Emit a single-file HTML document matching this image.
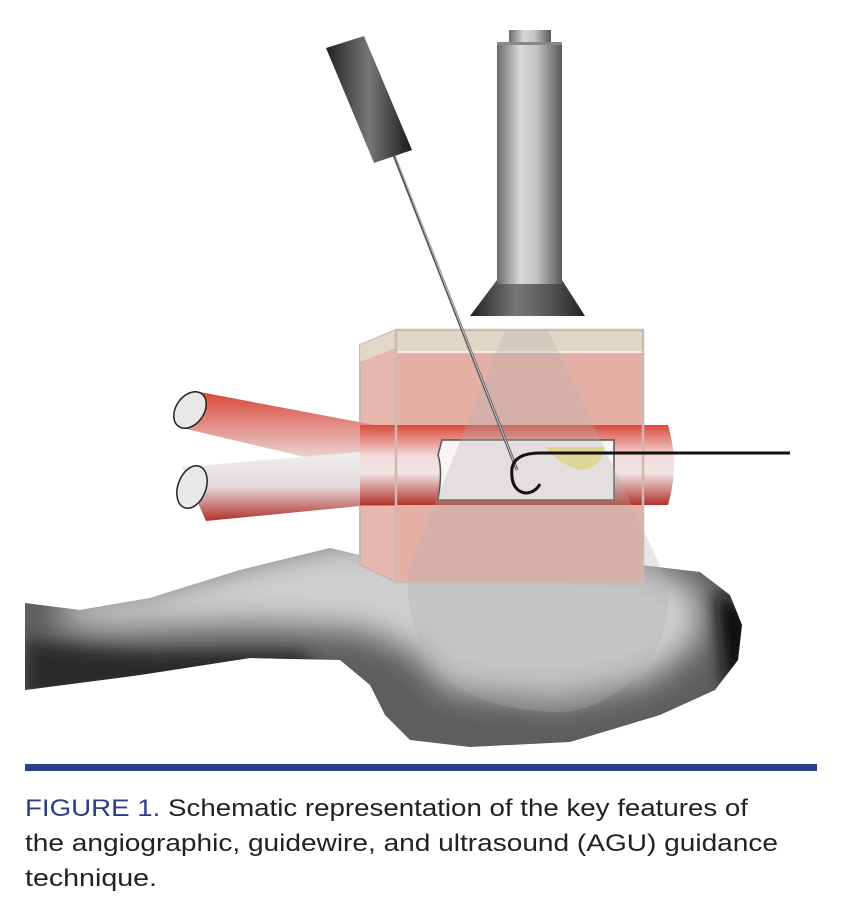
<!DOCTYPE html>
<html><head><meta charset="utf-8"><style>
html,body{margin:0;padding:0;background:#fff;width:842px;height:900px;overflow:hidden}
svg{display:block}
</style></head><body>
<svg width="842" height="900" viewBox="0 0 842 900" xmlns="http://www.w3.org/2000/svg">
<defs>
<linearGradient id="cyl" x1="0" x2="1" y1="0" y2="0">
<stop offset="0" stop-color="#6a6a6a"/><stop offset="0.35" stop-color="#d8d8d8"/><stop offset="0.6" stop-color="#c4c4c4"/><stop offset="1" stop-color="#5a5a5a"/></linearGradient>
<linearGradient id="cone" x1="0" x2="1"><stop offset="0" stop-color="#222"/><stop offset="0.4" stop-color="#777"/><stop offset="0.7" stop-color="#555"/><stop offset="1" stop-color="#222"/></linearGradient>
<linearGradient id="handle" x1="0" x2="1"><stop offset="0" stop-color="#222"/><stop offset="0.5" stop-color="#777"/><stop offset="1" stop-color="#1a1a1a"/></linearGradient>
<linearGradient id="vessel" x1="0" x2="0" y1="0" y2="1"><stop offset="0" stop-color="#d94a3c"/><stop offset="0.4" stop-color="#f3dede"/><stop offset="0.6" stop-color="#f0e4e4"/><stop offset="1" stop-color="#b2332b"/></linearGradient>
<linearGradient id="branchU" x1="0" x2="0" y1="0" y2="1"><stop offset="0" stop-color="#d8473a"/><stop offset="1" stop-color="#eee"/></linearGradient>
<linearGradient id="branchL" x1="0" x2="0" y1="0" y2="1"><stop offset="0" stop-color="#eee"/><stop offset="0.5" stop-color="#e6dada"/><stop offset="1" stop-color="#b0322a"/></linearGradient>
<filter id="blur" x="-50%" y="-50%" width="200%" height="200%"><feGaussianBlur stdDeviation="16"/></filter>
<filter id="blur2" x="-50%" y="-50%" width="200%" height="200%"><feGaussianBlur stdDeviation="8"/></filter>
<clipPath id="gclip"><path d="M25 603 L80 610 L150 598 L240 570 L330 548 L380 560 L640 565 L700 572 L730 595 L742 625 L738 660 L715 690 L660 715 L570 742 L470 747 L410 740 L385 715 L370 685 L340 660 L250 658 L140 675 L25 690 Z"/></clipPath>
</defs>

<!-- ground -->
<g clip-path="url(#gclip)">
<rect x="0" y="540" width="760" height="220" fill="#5e5e5e"/>
<path d="M25 640 L25 700 L200 690 L330 680 L300 650 L150 650 Z" fill="#2a2a2a" filter="url(#blur2)"/>
<path d="M60 600 L150 590 L250 560 L340 540 L640 560 L700 590 L700 640 L650 680 L560 700 L450 690 L410 650 L360 630 L250 625 L120 630 L60 625 Z" fill="#cfcfcf" filter="url(#blur)"/>
<path d="M715 590 L750 610 L750 670 L725 690 Z" fill="#111" filter="url(#blur2)"/>
</g>

<!-- box side & front -->
<polygon points="360,345 396,330 396,582 360,565" fill="#e7b7ad" stroke="#c9b8b0" stroke-width="2"/>
<polygon points="360,345 396,330 396,348 360,362" fill="#e1d8c7"/>
<rect x="396" y="330" width="247" height="252" fill="#e4b0a6" stroke="#c9b8b0" stroke-width="2"/>
<rect x="397" y="331" width="245" height="20" fill="#e0d7c5"/>
<line x1="397" y1="352" x2="642" y2="352" stroke="#fff" stroke-width="1.5"/>

<!-- vessels -->
<path d="M200 392 L380 426 L396 426 L396 470 L360 470 L182 428 Z" fill="url(#branchU)"/>
<path d="M182 467 L360 452 L396 452 L396 506 L360 506 L206 521 Z" fill="url(#branchL)"/>
<path d="M360 425 L668 425 Q680 465 668 505 L360 505 Z" fill="url(#vessel)"/>
<ellipse cx="190" cy="410" rx="14" ry="20" transform="rotate(35 190 410)" fill="#e8e8e8" stroke="#222" stroke-width="1.5"/>
<ellipse cx="192" cy="487" rx="14" ry="22" transform="rotate(20 192 487)" fill="#e8e8e8" stroke="#222" stroke-width="1.5"/>
<!-- window -->
<path d="M442 440 L614 440 L614 500 L438 500 Q443 470 438 455 Z" fill="#fbf4f4" stroke="#555" stroke-width="1.5"/>
<path d="M545 447 L605 447 Q600 470 580 470 Q560 465 545 447 Z" fill="#f3e48a"/>

<!-- ultrasound beam -->
<path d="M505 330 L548 330 L660 565 Q680 610 650 660 Q610 710 560 712 Q470 712 430 660 Q405 620 408 570 Z" fill="#b0b0b0" opacity="0.3"/>

<rect x="396" y="330" width="247" height="252" fill="none" stroke="#cdb9b1" stroke-width="2.5"/>

<!-- vertical probe -->
<path d="M470 316 L585 316 L562 280 L497 280 Z" fill="url(#cone)"/>
<rect x="497" y="42" width="65" height="242" fill="url(#cyl)"/>
<rect x="509" y="30" width="42" height="14" fill="url(#cyl)"/>
<rect x="497" y="42" width="65" height="3" fill="#888"/>

<!-- needle -->
<line x1="392" y1="150" x2="517" y2="470" stroke="#555" stroke-width="3"/>
<line x1="393" y1="150" x2="517" y2="470" stroke="#ccc" stroke-width="1"/>
<polygon points="326,48 364,36 412,150 374,163" fill="url(#handle)"/>

<!-- guidewire -->
<path d="M790 453 L540 453 Q515 453 512 468 Q510 490 525 493 Q535 493 540 484" fill="none" stroke="#111" stroke-width="3"/>

<!-- caption -->
<rect x="25" y="764" width="792" height="7" fill="#2c3e86"/>
<g font-family="'Liberation Sans', sans-serif" font-size="24" fill="#222">
<text x="25" y="816" textLength="723" lengthAdjust="spacingAndGlyphs"><tspan fill="#2c3e86">FIGURE 1.</tspan> Schematic representation of the key features of</text>
<text x="25" y="851" textLength="753" lengthAdjust="spacingAndGlyphs">the angiographic, guidewire, and ultrasound (AGU) guidance</text>
<text x="25" y="886" textLength="132" lengthAdjust="spacingAndGlyphs">technique.</text>
</g>
</svg>
</body></html>
